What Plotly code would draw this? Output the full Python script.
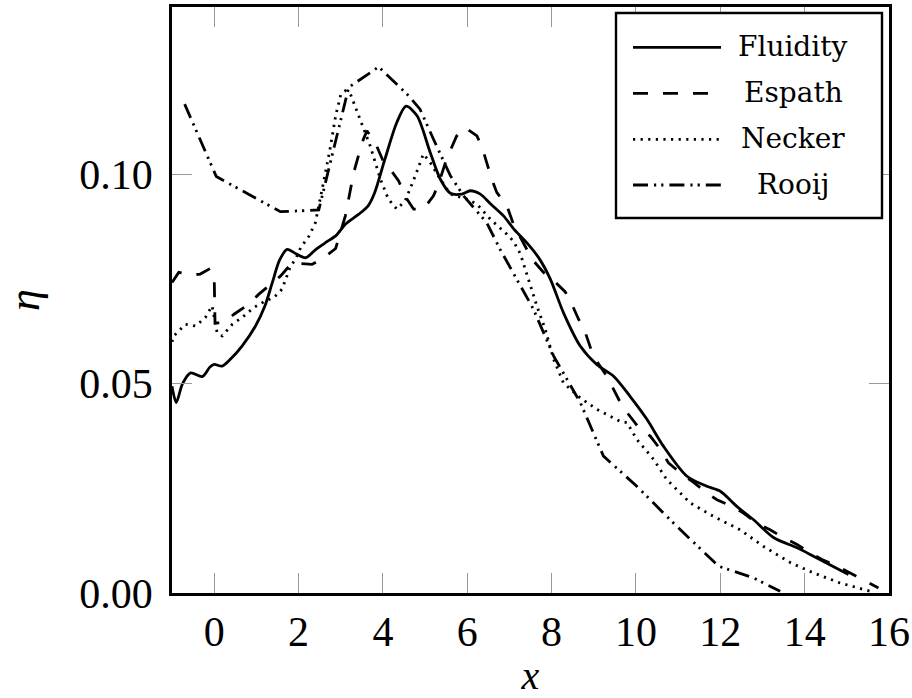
import plotly.graph_objects as go

# ---------------- data ----------------
fluidity_x = [-1.0, -0.9, -0.75, -0.56, -0.28, -0.1, 0.0, 0.19, 0.4, 0.66, 0.98, 1.2, 1.38, 1.55, 1.73,
              1.95, 2.17, 2.4, 2.64, 2.9, 3.11, 3.43, 3.65, 3.8, 4.05, 4.33, 4.55, 4.81, 5.12, 5.36,
              5.6, 5.87, 6.07, 6.31, 6.55, 6.86, 7.1, 7.41, 7.7, 7.97, 8.28, 8.68, 9.07, 9.47, 9.86,
              10.26, 10.65, 11.21, 11.68, 12.0, 12.39, 12.79, 13.27, 13.82, 14.21, 15.04]
fluidity_y = [0.0494, 0.0455, 0.0500, 0.0526, 0.0517, 0.0540, 0.0546, 0.0542, 0.0560, 0.0590, 0.0638,
              0.0685, 0.0742, 0.0795, 0.0821, 0.0810, 0.0801, 0.0820, 0.0837, 0.0855, 0.0881, 0.0905,
              0.0925, 0.0955, 0.1037, 0.1124, 0.1163, 0.1140, 0.1053, 0.0989, 0.0955, 0.0953, 0.0961,
              0.0953, 0.0930, 0.0901, 0.0870, 0.0837, 0.0800, 0.0750, 0.0670, 0.0590, 0.0546, 0.0518,
              0.0470, 0.0415, 0.0351, 0.0279, 0.0255, 0.0243, 0.0207, 0.0175, 0.0132, 0.0108, 0.0088,
              0.0044]

espath_x = [-1.0, -0.84, -0.5, -0.33, -0.1, 0.0, 0.02, 0.23, 0.47, 0.82, 1.06, 1.38, 1.57, 1.85, 2.32,
            2.6, 2.88, 3.11, 3.31, 3.51, 3.62, 3.8, 4.02, 4.17, 4.37, 4.57, 4.73, 4.96, 5.2, 5.32,
            5.51, 5.75, 5.95, 6.23, 6.35, 6.46, 6.58, 6.7, 6.94, 7.1, 7.26, 7.38, 7.54, 7.81, 8.05,
            8.32, 8.48, 8.64, 8.8, 8.99, 9.15, 9.31, 9.63, 9.79, 10.1, 10.34, 10.58, 10.77, 11.05,
            11.33, 11.68, 11.92, 12.27, 12.55, 12.87, 13.18, 13.5, 13.82, 14.13, 14.41, 14.77, 15.08,
            15.44, 15.75]
espath_y = [0.0742, 0.0766, 0.0760, 0.0762, 0.0775, 0.0760, 0.0645, 0.0646, 0.0666, 0.0690, 0.0714,
            0.0742, 0.0757, 0.0789, 0.0785, 0.0801, 0.0823, 0.0901, 0.1005, 0.1077, 0.1104, 0.1080,
            0.1029, 0.1013, 0.0985, 0.0941, 0.0917, 0.0917, 0.0949, 0.0977, 0.1037, 0.1092, 0.1112,
            0.1092, 0.1065, 0.1029, 0.0989, 0.0957, 0.0925, 0.0880, 0.0850, 0.0829, 0.0797, 0.0766,
            0.0746, 0.0720, 0.0690, 0.0654, 0.0622, 0.0566, 0.0542, 0.0518, 0.0455, 0.0431, 0.0391,
            0.0375, 0.0343, 0.0311, 0.0287, 0.0267, 0.0239, 0.0223, 0.0207, 0.0191, 0.0167, 0.0151,
            0.0132, 0.0116, 0.0096, 0.0080, 0.0064, 0.0048, 0.0028, 0.0012]

necker_x = [-1.0, -0.96, -0.68, -0.44, -0.21, -0.05, 0.07, 0.19, 0.43, 0.66, 0.94, 1.22, 1.42, 1.61,
            1.81, 1.93, 2.05, 2.25, 2.4, 2.52, 2.64, 2.76, 2.88, 3.0, 3.11, 3.23, 3.46, 3.7, 3.94,
            4.13, 4.33, 4.53, 4.77, 4.96, 5.12, 5.36, 5.6, 5.99, 6.23, 6.55, 6.94, 7.1, 7.26, 7.45,
            7.65, 7.85, 8.05, 8.28, 8.68, 9.07, 9.63, 9.79, 10.02, 10.42, 10.73, 11.29, 11.84, 12.47,
            13.03, 13.67, 14.21, 14.84, 15.56]
necker_y = [0.0600, 0.0614, 0.0642, 0.0638, 0.0658, 0.0686, 0.0622, 0.0614, 0.0642, 0.0658, 0.0682,
            0.0698, 0.0706, 0.0726, 0.0781, 0.0797, 0.0825, 0.0853, 0.0885, 0.0941, 0.1005, 0.1068,
            0.1140, 0.1190, 0.1200, 0.1192, 0.1132, 0.1068, 0.0989, 0.0941, 0.0917, 0.0937, 0.0997,
            0.1049, 0.1029, 0.0989, 0.0953, 0.0941, 0.0929, 0.0893, 0.0857, 0.0840, 0.0810, 0.0750,
            0.0686, 0.0630, 0.0558, 0.0502, 0.0466, 0.0439, 0.0410, 0.0407, 0.0367, 0.0319, 0.0271,
            0.0215, 0.0183, 0.0151, 0.0111, 0.0072, 0.0048, 0.0024, 0.0004]

rooij_x = [-0.7, 0.05, 1.57, 2.48, 3.19, 3.9, 4.61, 4.88, 5.2, 5.6, 5.91, 6.46, 6.78, 7.57, 8.05,
           8.68, 9.23, 10.02, 10.89, 11.96, 12.79, 13.42]
rooij_y = [0.1168, 0.0995, 0.0911, 0.0915, 0.1208, 0.1257, 0.1188, 0.1156, 0.1084, 0.0997, 0.0949,
           0.0885, 0.0821, 0.0678, 0.0566, 0.0455, 0.0327, 0.0255, 0.0167, 0.0064, 0.0036, 0.0004]

series_names = ["Fluidity", "Espath", "Necker", "Rooij"]
x_ticks = [0, 2, 4, 6, 8, 10, 12, 14, 16]
y_ticks = [0.0, 0.05, 0.10]
y_tick_labels = ["0.00", "0.05", "0.10"]

# ---------------- styles ----------------
LW = 2.8
dashes = ["solid", "15px,15px", "2.2px,5.4px", "15px,6px,2.2px,5px,2.2px,6px"]
shapes_ = ["spline", "linear", "linear", "linear"]

fig = go.Figure()
data = [(fluidity_x, fluidity_y), (espath_x, espath_y), (necker_x, necker_y), (rooij_x, rooij_y)]
for (xs, ys), name, d, sh in zip(data, series_names, dashes, shapes_):
    line = dict(color="black", width=LW, dash=d, shape=sh)
    if sh == "spline":
        line["smoothing"] = 0.8
    fig.add_trace(go.Scatter(x=xs, y=ys, mode="lines", name=name, line=line, showlegend=False))

# ---------------- custom legend (pgfplots style) ----------------
W, H = 912, 698
L, R, T, B = 172, 23, 7, 105
pw, ph = W - L - R, H - T - B


def px2paper(px, py):
    return (px - L) / pw, (H - B - py) / ph


shapes = []
bx0, by0 = px2paper(616, 218)
bx1, by1 = px2paper(882, 13)
shapes.append(dict(type="rect", xref="paper", yref="paper", x0=bx0, y0=by0, x1=bx1, y1=by1,
                   line=dict(color="black", width=2.4), fillcolor="white", layer="above"))
annotations = []
row_y = [47.3, 93.3, 139.3, 185.0]
for name, d, ry in zip(series_names, dashes, row_y):
    lx0, ly = px2paper(633, ry)
    lx1, _ = px2paper(721, ry)
    shapes.append(dict(type="line", xref="paper", yref="paper", x0=lx0, x1=lx1, y0=ly, y1=ly,
                       line=dict(color="black", width=LW, dash=d), layer="above"))
    tx, ty = px2paper(793, ry - 1)
    annotations.append(dict(x=tx, y=ty, xref="paper", yref="paper", text=name, showarrow=False,
                            xanchor="center", yanchor="middle",
                            font=dict(family="DejaVu Serif", size=28, color="black")))

axis_common = dict(showgrid=False, zeroline=False, showline=True, linecolor="black", linewidth=2.6,
                   mirror="ticks", ticks="inside", ticklen=20, tickwidth=1, tickcolor="#999999",
                   automargin=False,
                   tickfont=dict(family="Liberation Serif", size=42, color="black"))

fig.update_layout(
    width=W, height=H,
    margin=dict(l=L, r=R, t=T, b=B),
    paper_bgcolor="white", plot_bgcolor="white",
    shapes=shapes, annotations=annotations,
    xaxis=dict(range=[-1, 16], tickvals=x_ticks, ticktext=[str(v) for v in x_ticks],
               title=dict(text="<i>x</i>", font=dict(family="Liberation Serif", size=40, color="black"),
                          standoff=10),
               ticklabelstandoff=0, **axis_common),
    yaxis=dict(range=[0, 0.14], tickvals=y_ticks, ticktext=y_tick_labels,
               title=dict(text="<i>η</i>", font=dict(family="Liberation Serif", size=44, color="black"),
                          standoff=44),
               ticklabelstandoff=8, **axis_common),
)

fig.write_html("out.html", config={"displayModeBar": False},
               post_script="document.body.style.margin='0px';document.body.style.overflow='hidden';")
